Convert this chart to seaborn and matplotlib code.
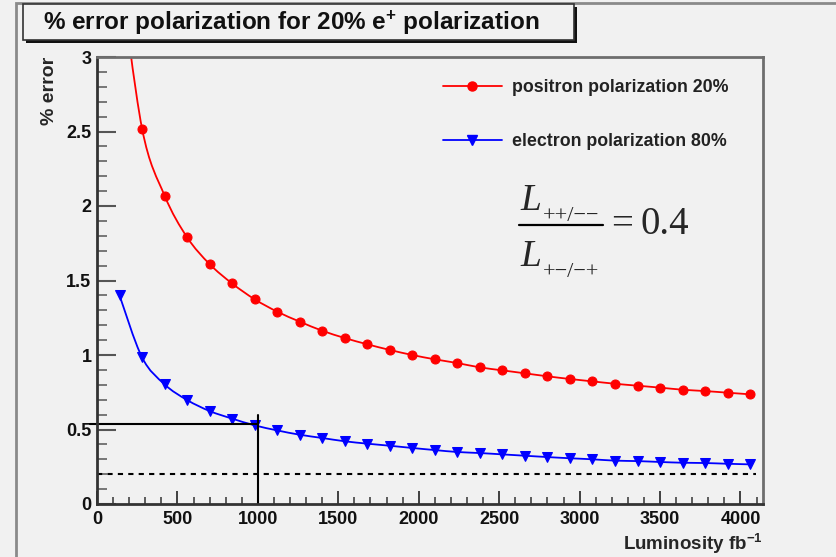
import numpy as np
import pandas as pd
import seaborn as sns
import matplotlib.pyplot as plt
from matplotlib.patches import Rectangle, PathPatch
from matplotlib.path import Path
from matplotlib.lines import Line2D
from matplotlib.ticker import MultipleLocator, FormatStrFormatter

# luminosity points (fb^-1)
lumi = [140, 280, 420, 560, 700, 840, 980, 1120, 1260, 1400, 1540, 1680, 1820, 1960,
        2100, 2240, 2380, 2520, 2660, 2800, 2940, 3080, 3220, 3360, 3500, 3640,
        3780, 3920, 4060]

# % error, positron polarization 20% (first point lies above the frame)
err_positron = [3.6, 2.52, 2.07, 1.79, 1.61, 1.48, 1.374, 1.291, 1.224, 1.163, 1.114,
                1.072, 1.034, 1.0, 0.971, 0.946, 0.917, 0.897, 0.877, 0.857, 0.839,
                0.823, 0.807, 0.794, 0.781, 0.767, 0.758, 0.747, 0.736]

# % error, electron polarization 80%
err_electron = [1.40, 0.984, 0.803, 0.698, 0.624, 0.573, 0.528, 0.494, 0.465, 0.443,
                0.421, 0.405, 0.391, 0.376, 0.362, 0.349, 0.342, 0.333, 0.324, 0.315,
                0.307, 0.300, 0.291, 0.288, 0.282, 0.277, 0.275, 0.270, 0.266]

labels = ["positron polarization 20%", "electron polarization 80%"]

# reference lines
ref_lumi = 1000
ref_error = 0.54
ref_top = 0.6
target_error = 0.2

df = pd.DataFrame({"lumi": lumi, "positron": err_positron, "electron": err_electron})

sns.set_style("ticks")
plt.rcParams["font.family"] = ["Liberation Sans", "DejaVu Sans"]
plt.rcParams["mathtext.fontset"] = "custom"
plt.rcParams["mathtext.rm"] = "Liberation Sans"
plt.rcParams["mathtext.bf"] = "Liberation Sans:bold"
plt.rcParams["mathtext.it"] = "Liberation Sans:italic"


def smooth_path(xs, ys):
    # ROOT "C" style smooth curve through the points (Catmull-Rom as Bezier)
    pts = np.column_stack([xs, ys]).astype(float)
    ext = np.vstack([pts[0], pts, pts[-1]])
    verts = [pts[0]]
    codes = [Path.MOVETO]
    for i in range(len(pts) - 1):
        p0, p1, p2, p3 = ext[i], ext[i + 1], ext[i + 2], ext[i + 3]
        verts += [p1 + (p2 - p0) / 6, p2 - (p3 - p1) / 6, p2]
        codes += [Path.CURVE4] * 3
    return Path(verts, codes)


bg = "#f1f1f1"
W, H = 836, 557
fig = plt.figure(figsize=(W / 100, H / 100), dpi=100, facecolor=bg)
ax = fig.add_axes([97 / W, 1 - 504 / H, (763 - 97) / W, (504 - 57) / H])
ax.set_facecolor(bg)

red, blue = "#ff0000", "#0000ff"
ax.add_patch(PathPatch(smooth_path(df["lumi"], df["positron"]), fill=False, ec=red, lw=1.3))
ax.add_patch(PathPatch(smooth_path(df["lumi"], df["electron"]), fill=False, ec=blue, lw=1.3))
sns.lineplot(data=df, x="lumi", y="positron", ax=ax, color=red, linestyle="",
             marker="o", markersize=6.5, markeredgecolor=red, legend=False)
sns.lineplot(data=df, x="lumi", y="electron", ax=ax, color=blue, linestyle="",
             marker="v", markersize=6.5, markeredgecolor=blue, legend=False)

# reference lines
ax.plot([-45, ref_lumi], [ref_error, ref_error], color="black", lw=1.5, clip_on=False)
ax.plot([ref_lumi, ref_lumi], [0, ref_top], color="black", lw=1.5)
ax.plot([0, 4095], [target_error, target_error], color="black", lw=1.5,
        ls=(0, (2.5, 2.5)))

ax.set_xlim(0, 4140)
ax.set_ylim(0, 3)

ax.xaxis.set_major_locator(MultipleLocator(500))
ax.xaxis.set_minor_locator(MultipleLocator(100))
ax.yaxis.set_major_locator(MultipleLocator(0.5))
ax.yaxis.set_minor_locator(MultipleLocator(0.1))
ax.yaxis.set_major_formatter(FormatStrFormatter("%g"))

ax.tick_params(axis="x", which="major", direction="in", length=9.5, width=1.3,
               color="#333333", pad=5, labelsize=13)
ax.tick_params(axis="x", which="minor", direction="in", length=4.8, width=1.1,
               color="#333333")
ax.tick_params(axis="y", which="major", direction="in", length=14, width=1.5,
               color="#555555", pad=4, labelsize=13)
ax.tick_params(axis="y", which="minor", direction="in", length=7, width=1.1,
               color="#555555")
for lab in ax.get_xticklabels() + ax.get_yticklabels():
    lab.set_fontweight("bold")
    lab.set_color("#111111")

for side in ["left", "bottom"]:
    ax.spines[side].set_color("#333333")
    ax.spines[side].set_linewidth(2)
for side in ["top", "right"]:
    ax.spines[side].set_color("#6e6e6e")
    ax.spines[side].set_linewidth(2)

ax.set_xlabel(r"Luminosity fb$^{\mathbf{-1}}$", loc="right", fontsize=13.5,
              fontweight="bold", labelpad=3)
ax.set_ylabel("% error", loc="top", fontsize=14, fontweight="bold", labelpad=6)

handles = [Line2D([], [], color=red, lw=1.3, marker="o", markersize=6.5),
           Line2D([], [], color=blue, lw=1.3, marker="v", markersize=6.5)]
leg = ax.legend(handles, labels, loc="upper left",
                bbox_to_anchor=((443 - 97) / 666, (504 - 79) / 447),
                frameon=False, fontsize=12.8, labelspacing=2.1, handlelength=3.3,
                handletextpad=0.6, borderpad=0, borderaxespad=0)
for t in leg.get_texts():
    t.set_fontweight("bold")
    t.set_color("#222222")


# ratio formula  L(++/--) / L(+-/-+) = 0.4
def ftext(x, y, s, size, style="normal"):
    fig.text(x / W, 1 - y / H, s, fontsize=size, family="Liberation Serif",
             style=style, ha="left", va="baseline")


ftext(520, 210, "L", 27, "italic")
ftext(543, 221, "++/\u2212\u2212", 16)
fig.add_artist(Line2D([519 / W, 603 / W], [1 - 225 / H, 1 - 225 / H], color="black",
                      lw=1.6, transform=fig.transFigure))
ftext(520, 266, "L", 27, "italic")
ftext(543, 277, "+\u2212/\u2212+", 16)
ftext(611, 234, "=", 28)
ftext(640, 234, "0.4", 28)

# outer pad border
fig.add_artist(Rectangle((16 / W, -0.1), 1.0, 1 - 3 / H + 0.1, fill=False,
                         ec="#8a8a8a", lw=2, transform=fig.transFigure))

# title box with shadow
fig.add_artist(Rectangle((26 / W, 1 - 43 / H), (577 - 26) / W, (43 - 7) / H,
                         fc="#111111", ec="none", transform=fig.transFigure))
fig.add_artist(Rectangle((23 / W, 1 - 40 / H), (574 - 23) / W, (40 - 4) / H,
                         fc=bg, ec="#333333", lw=1.2, transform=fig.transFigure))
fig.text(43 / W, 1 - 23 / H, r"% error polarization for 20% e$^{\mathbf{+}}$ polarization",
         fontsize=17.5, fontweight="bold", ha="left", va="center", color="#111111")

fig.savefig("out.png", dpi=100, facecolor=bg)
